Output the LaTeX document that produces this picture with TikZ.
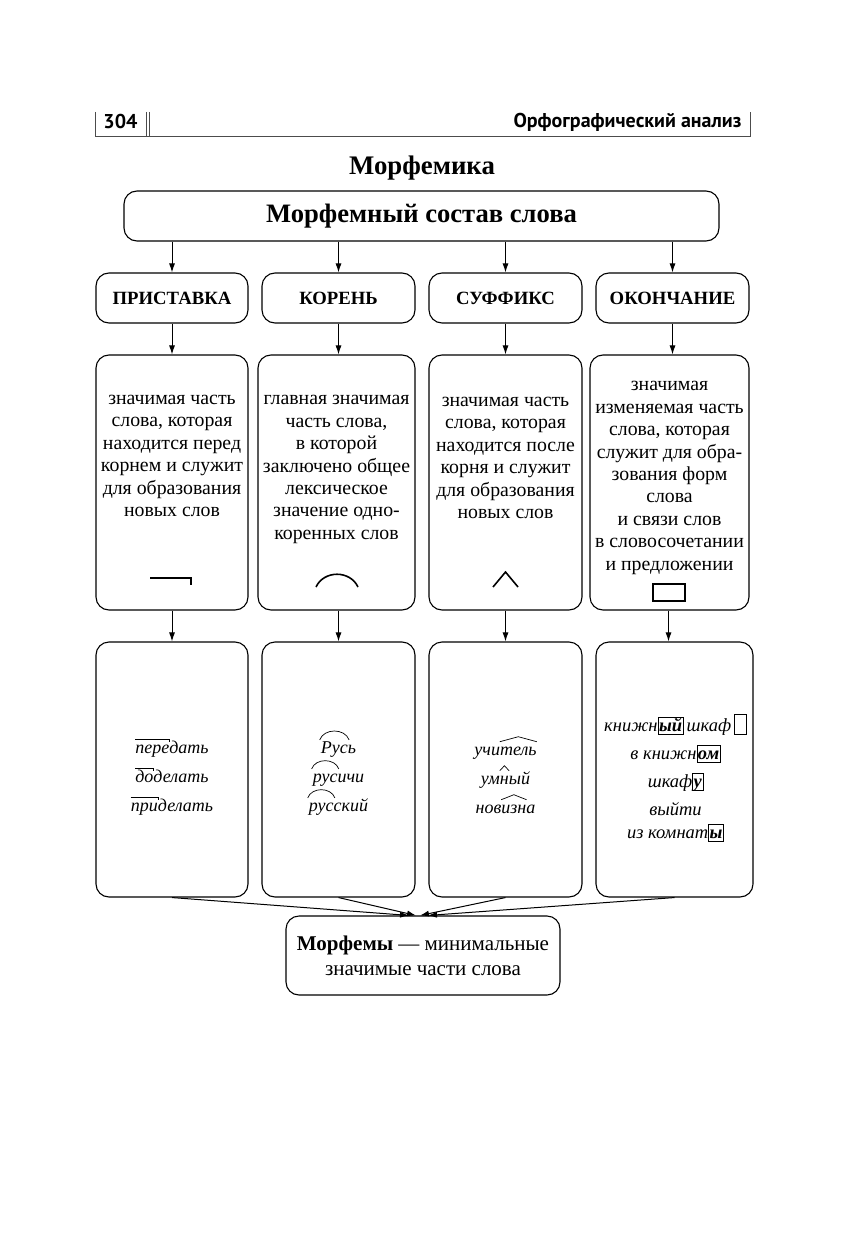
\documentclass[tikz,border=0pt]{standalone}
\usepackage{fontspec}
\setmainfont{Liberation Serif}
\newfontfamily\headfont{PT Sans}
\usetikzlibrary{arrows.meta,positioning,calc}

% morpheme marks
\newcommand\prefm[1]{\tikz[baseline=(w.base)]{\node[inner sep=0pt,text height=0.72em](w){#1};
  \draw[overlay,line width=0.7pt] ([yshift=1.5pt]w.north west) -- ([yshift=1.5pt]w.north east) -- ++(0,-3.5pt);}}
\newcommand\rootm[1]{\tikz[baseline=(w.base)]{\node[inner sep=0pt,text height=0.72em](w){#1};
  \draw[overlay,line width=0.7pt] ([xshift=-1pt,yshift=0.5pt]w.north west) to[out=70,in=110,looseness=1.1] ([xshift=1pt,yshift=0.5pt]w.north east);}}
\newcommand\sufm[1]{\tikz[baseline=(w.base)]{\node[inner sep=0pt,text height=0.72em](w){#1};
  \draw[overlay,line width=0.7pt] ([yshift=0.5pt]w.north west) -- ([yshift=5.5pt]w.north) -- ([yshift=0.5pt]w.north east);}}
\newcommand\okm[1]{\tikz[baseline=(w.base)]\node[draw,line width=0.7pt,inner sep=1pt,
  text height=0.72em,text depth=0.12em,font=\bfseries](w){#1};}
\newcommand\nullm{\tikz[baseline=0pt]\draw[line width=0.6pt] (0,-0.15em) rectangle (0.65em,0.9em);}

\begin{document}
\begin{tikzpicture}[x=1pt,y=-1pt,
    blk/.style={draw,line width=1.1pt,rounded corners=13pt,inner sep=0pt},
    txt/.style={align=center,inner sep=0pt,font=\fontsize{19.8}{22.4}\selectfont},
    ex/.style={align=center,inner sep=0pt,font=\fontsize{18}{29}\selectfont\itshape},
    arr/.style={line width=1pt,-{Latex[length=9pt,width=6pt]}}]
  \useasboundingbox (0,0) rectangle (845,1241);

  % page header
  \draw[line width=0.8pt,black!70] (95,112) -- (95,136) -- (750,136) -- (750,112);
  \draw[line width=0.8pt,black!70] (146,112) -- (146,136) (149,112) -- (149,136);
  \node[font=\headfont\bfseries\fontsize{20}{21}\selectfont] (page) at (120.5,122) {304};
  \node[font=\headfont\bfseries\fontsize{20}{21}\selectfont,anchor=east] (head) at (745,122) {Орфографический анализ};

  \node[font=\bfseries\fontsize{26.8}{28}\selectfont] (title) at (422,168) {Морфемика};

  % main box
  \node[blk,minimum width=595pt,minimum height=50pt,font=\bfseries\fontsize{26.6}{28}\selectfont] (sost) at (421.5,216) {Морфемный состав слова};

  % morphemes
  \node[blk,minimum width=152pt,minimum height=50pt,font=\bfseries\fontsize{18.7}{20}\selectfont] (pri) at (172,298) {ПРИСТАВКА};
  \node[blk,minimum width=153pt,minimum height=50pt,font=\bfseries\fontsize{18.7}{20}\selectfont] (kor) at (338.5,298) {КОРЕНЬ};
  \node[blk,minimum width=153pt,minimum height=50pt,font=\bfseries\fontsize{18.7}{20}\selectfont] (suf) at (505.5,298) {СУФФИКС};
  \node[blk,minimum width=153pt,minimum height=50pt,font=\bfseries\fontsize{18.7}{20}\selectfont] (oko) at (672.5,298) {ОКОНЧАНИЕ};

  % definitions
  \node[blk,minimum width=152pt,minimum height=255pt] (pri2) at (172,482.5) {};
  \node[blk,minimum width=157pt,minimum height=255pt] (kor2) at (336.5,482.5) {};
  \node[blk,minimum width=153pt,minimum height=255pt] (suf2) at (505.5,482.5) {};
  \node[blk,minimum width=159pt,minimum height=255pt] (oko2) at (669.5,482.5) {};

  \node[txt] (pri2t) at (172,456) {значимая часть\\слова, которая\\находится перед\\корнем и служит\\для образования\\новых слов};
  \node[txt] (kor2t) at (336.5,469.5) {главная значимая\\часть слова,\\в которой\\заключено общее\\лексическое\\значение одно-\\коренных слов};
  \node[txt] (suf2t) at (505.5,458) {значимая часть\\слова, которая\\находится после\\корня и служит\\для образования\\новых слов};
  \node[txt] (oko2t) at (669.5,478) {значимая\\изменяемая часть\\слова, которая\\служит для обра-\\зования форм\\слова\\и связи слов\\в словосочетании\\и предложении};

  % signs
  \draw[line width=1.6pt] (150,578) -- (191,578) -- (191,585);
  \draw[line width=1.6pt] (316,587) .. controls (324,570) and (350,570) .. (358,587);
  \draw[line width=1.6pt] (493,587) -- (505.5,572) -- (518,587);
  \draw[line width=2pt] (653,584) rectangle (685,601);

  % examples
  \node[blk,minimum width=152pt,minimum height=255pt] (pri3) at (172,769.5) {};
  \node[blk,minimum width=153pt,minimum height=255pt] (kor3) at (338.5,769.5) {};
  \node[blk,minimum width=153pt,minimum height=255pt] (suf3) at (505.5,769.5) {};
  \node[blk,minimum width=157pt,minimum height=255pt] (oko3) at (674.5,769.5) {};

  \node[ex] (pri3t) at (172,778) {\prefm{пере}дать\\\prefm{до}делать\\\prefm{при}делать};
  \node[ex] (kor3t) at (338.5,778) {\rootm{Рус}ь\\\rootm{рус}ичи\\\rootm{рус}ский};
  \node[ex] (suf3t) at (505.5,778) {учи\sufm{тель}\\ум\sufm{н}ый\\нов\sufm{изн}а};
  \node[ex,font=\fontsize{18.5}{28}\selectfont\itshape] (oko3t) at (675.5,778) {книжн\okm{ый}\,шкаф\,\nullm\\в книжн\okm{ом}\\шкаф\okm{у}\\выйти\\[-5pt]из комнат\okm{ы}};

  % summary
  \node[blk,minimum width=274pt,minimum height=79pt,align=center,font=\fontsize{21}{25}\selectfont] (morf) at (423,955.5)
    {\textbf{Морфемы} — минимальные\\значимые части слова};

  % arrows
  \foreach \a/\b in {pri/pri2,kor/kor2,suf/suf2,oko/oko2}
    \draw[arr] (\a.south) -- (\a.south |- \b.north);
  \foreach \a in {pri,kor,suf,oko}
    \draw[arr] (sost.south -| \a) -- (\a.north);
  \draw[arr] (pri2.south) -- (pri2.south |- pri3.north);
  \draw[arr] (kor2.south -| kor3) -- (kor3.north);
  \draw[arr] (suf2.south) -- (suf3.north);
  \draw[arr] ([xshift=-1pt]oko2.south) -- ([xshift=-1pt]oko2.south |- oko3.north);
  \draw[arr] (pri3.south) -- ([xshift=-14pt]morf.north);
  \draw[arr] (kor3.south) -- ([xshift=-7pt]morf.north);
  \draw[arr] (suf3.south) -- ([xshift=-3pt]morf.north);
  \draw[arr] (oko3.south) -- ([xshift=5pt]morf.north);
\end{tikzpicture}
\end{document}
